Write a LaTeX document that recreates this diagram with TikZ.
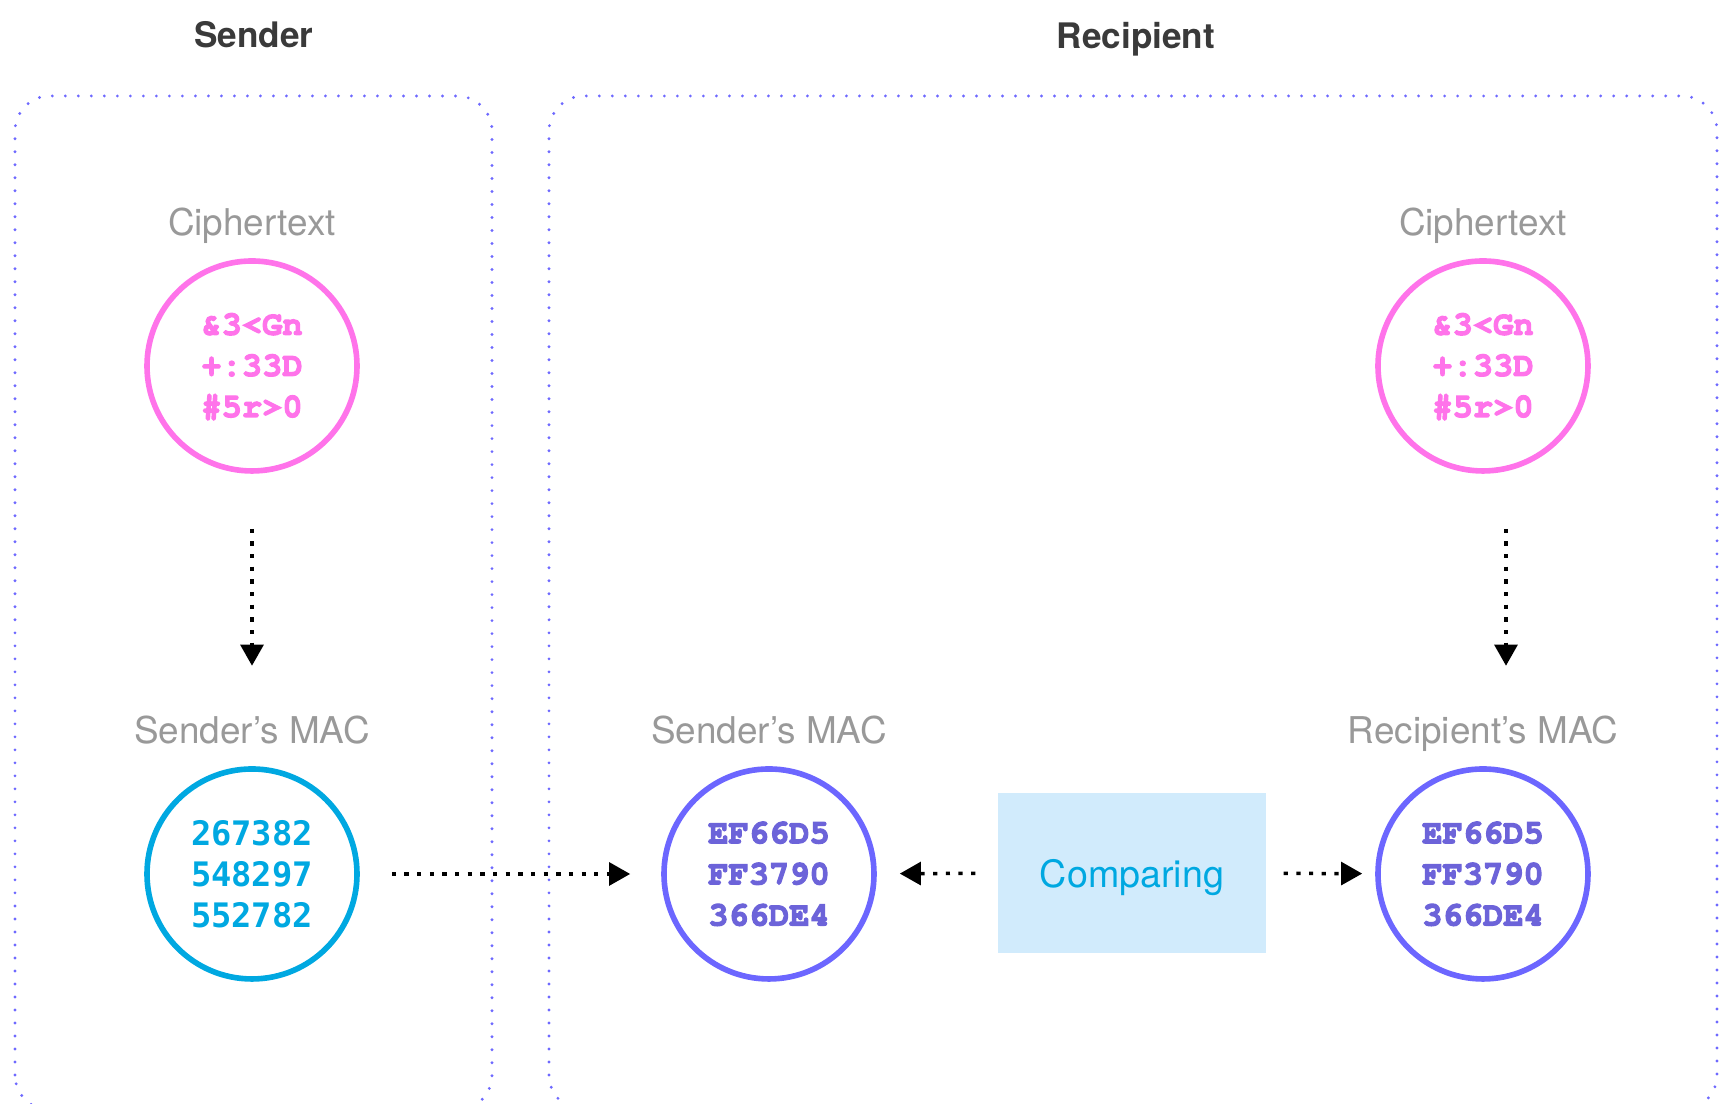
\documentclass[tikz,border=0pt]{standalone}
\usepackage[T1]{fontenc}
\usepackage{fontspec}
\setmainfont{TeX Gyre Heros}
\newfontfamily\digitfont{DejaVu Sans Mono}
\newcommand{\courierbold}{\fontencoding{T1}\fontfamily{pcr}\fontseries{b}\selectfont}
% heavier strokes for the courier codes
\newcommand{\heavycode}[1]{\special{pdf:literal direct 2 Tr 0.35 w}#1\special{pdf:literal direct 0 Tr}}
\usetikzlibrary{arrows.meta, positioning}
\definecolor{cipherpink}{RGB}{255, 115, 234}
\definecolor{maccyan}{RGB}{0, 168, 225}
\definecolor{macviolet}{RGB}{108, 102, 255}
\definecolor{macvioletdark}{RGB}{108, 99, 217}
\definecolor{zoneviolet}{RGB}{110, 105, 255}
\definecolor{cmpfill}{RGB}{209, 235, 252}
\definecolor{labelgray}{RGB}{153, 153, 153}
\definecolor{titlegray}{RGB}{58, 58, 58}
\tikzset{
  >=Stealth,
  zonebox/.style={draw=zoneviolet, line width=0.9pt, dash pattern=on 0pt off 3.7pt, line cap=round, rounded corners=0.35cm},
  zonetitle/.style={font=\bfseries\fontsize{10}{12}\selectfont, text=titlegray, text depth=0pt},
  labeltext/.style={font=\fontsize{10.5}{12}\selectfont, text=labelgray, text depth=0pt},
  ring/.style={circle, line width=1.6pt, minimum size=2.1cm, inner sep=0pt, align=center},
  cipherring/.style={ring, draw=cipherpink, text=cipherpink, font=\courierbold\fontsize{9.6}{11.7}\selectfont},
  sendring/.style={ring, draw=maccyan, text=maccyan, font=\digitfont\bfseries\fontsize{9.6}{11.7}\selectfont},
  recvring/.style={ring, draw=macviolet, text=macvioletdark, font=\courierbold\fontsize{9.6}{11.7}\selectfont},
  cmpbox/.style={fill=cmpfill, minimum width=2.68cm, minimum height=1.6cm, text=maccyan, text depth=0pt, font=\fontsize{10.7}{12}\selectfont},
  dotarrow/.style={-{Triangle[length=6pt, width=6.5pt]}, line width=1pt, dash pattern=on 1.2pt off 2.4pt, black}
}
\begin{document}
\begin{tikzpicture}
    \useasboundingbox (0,0) rectangle (17.19,11.04);

    % zones
    \draw[zonebox] (0.15,-0.06) rectangle (4.92,10.08);
    \draw[zonebox] (5.49,-0.06) rectangle (17.17,10.08);
    \node (sendtitle) [zonetitle] at (2.54,10.69) {Sender};
    \node (recvtitle) [zonetitle] at (11.36,10.69) {Recipient};

    % sender side
    \node (sciph) [cipherring] at (2.52,7.38) {\heavycode{\&3<Gn\\+:33D\\\#5r>0}};
    \node (sciphlbl) [labeltext, above=0.1cm of sciph] {Ciphertext};
    \node (smac) [sendring] at (2.52,2.30) {267382\\548297\\552782};
    \node (smaclbl) [labeltext, above=0.1cm of smac] {Sender’s MAC};

    % recipient side
    \node (rsmac) [recvring] at (7.69,2.30) {\heavycode{EF66D5\\FF3790\\366DE4}};
    \node (rsmaclbl) [labeltext, above=0.1cm of rsmac] {Sender’s MAC};
    \node (cmp) [cmpbox] at (11.32,2.31) {Comparing};
    \node (rmac) [recvring] at (14.83,2.30) {\heavycode{EF66D5\\FF3790\\366DE4}};
    \node (rmaclbl) [labeltext, above=0.1cm of rmac] {Recipient’s MAC};
    \node (rciph) [cipherring] at (14.83,7.38) {\heavycode{\&3<Gn\\+:33D\\\#5r>0}};
    \node (rciphlbl) [labeltext, above=0.1cm of rciph] {Ciphertext};

    \draw[dotarrow, shorten <=0.55cm, shorten >=0.38cm] (sciph) -- (smaclbl);
    \draw[dotarrow, shorten <=0.32cm, shorten >=0.31cm] (smac) -- (rsmac);
    \draw[dotarrow, shorten <=0.22cm, shorten >=0.23cm] (cmp) -- (rsmac);
    \draw[dotarrow, shorten <=0.17cm, shorten >=0.13cm] (cmp) -- (rmac);
    \draw[dotarrow, shorten <=0.55cm, shorten >=0.38cm] ([xshift=0.23cm]rciph.south) -- ([xshift=0.23cm]rmaclbl.north);
\end{tikzpicture}
\end{document}
